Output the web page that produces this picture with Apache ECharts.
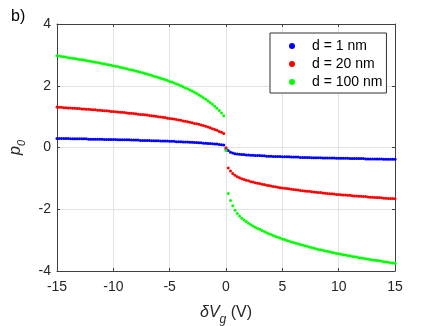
<!DOCTYPE html>
<html>
<head>
	<meta charset="utf-8">
	<title>p0 vs dVg</title>
	<script src="https://cdn.jsdelivr.net/npm/echarts@6/dist/echarts.min.js"></script>
</head>
<body style="margin:0">
	<div id="main" style="width: 436px;height: 326px"></div>
	<script type="text/javascript">
		// gate voltage grid: -15 V .. 15 V, 0.2 V apart (151 samples)
		var vgStart = -15, vgStep = 0.2;
		var seriesNames = ['d = 1 nm', 'd = 20 nm', 'd = 100 nm'];
		var seriesColors = ['#0000ff', '#ff0000', '#00ff00'];

		var p0Blue = [
			0.29,0.29,0.29,0.29,0.29,0.29,0.28,0.28,0.28,0.28,
			0.28,0.28,0.28,0.28,0.27,0.27,0.27,0.27,0.27,0.27,
			0.27,0.26,0.26,0.26,0.26,0.26,0.26,0.25,0.25,0.25,
			0.25,0.25,0.25,0.24,0.24,0.24,0.24,0.23,0.23,0.23,
			0.23,0.23,0.22,0.22,0.22,0.22,0.21,0.21,0.21,0.21,
			0.20,0.20,0.20,0.19,0.19,0.19,0.18,0.18,0.18,0.17,
			0.17,0.16,0.16,0.15,0.15,0.14,0.14,0.13,0.13,0.12,
			0.11,0.11,0.10,0.09,0.08,
			-0.05,
			-0.10,-0.15,-0.18,-0.20,-0.21,-0.22,-0.23,-0.23,-0.24,-0.24,
			-0.25,-0.25,-0.26,-0.26,-0.26,-0.27,-0.27,-0.28,-0.28,-0.28,
			-0.29,-0.29,-0.29,-0.29,-0.30,-0.30,-0.30,-0.30,-0.31,-0.31,
			-0.31,-0.31,-0.32,-0.32,-0.32,-0.32,-0.32,-0.33,-0.33,-0.33,
			-0.33,-0.33,-0.34,-0.34,-0.34,-0.34,-0.34,-0.34,-0.35,-0.35,
			-0.35,-0.35,-0.35,-0.35,-0.36,-0.36,-0.36,-0.36,-0.36,-0.36,
			-0.36,-0.37,-0.37,-0.37,-0.37,-0.37,-0.37,-0.37,-0.37,-0.38,
			-0.38,-0.38,-0.38,-0.38,-0.38
		];
		var p0Red = [
			1.31,1.30,1.30,1.29,1.29,1.28,1.28,1.27,1.27,1.26,
			1.26,1.25,1.25,1.24,1.24,1.23,1.22,1.22,1.21,1.21,
			1.20,1.19,1.19,1.18,1.17,1.17,1.16,1.15,1.14,1.14,
			1.13,1.12,1.11,1.11,1.10,1.09,1.08,1.07,1.07,1.06,
			1.05,1.04,1.03,1.02,1.01,1.00,0.99,0.98,0.97,0.95,
			0.94,0.93,0.92,0.91,0.89,0.88,0.86,0.85,0.83,0.82,
			0.80,0.78,0.77,0.75,0.73,0.71,0.69,0.66,0.64,0.61,
			0.58,0.56,0.52,0.49,0.45,
			-0.01,
			-0.66,-0.76,-0.84,-0.90,-0.95,-0.98,-1.01,-1.04,-1.06,-1.08,
			-1.11,-1.12,-1.14,-1.16,-1.17,-1.19,-1.20,-1.22,-1.23,-1.25,
			-1.26,-1.27,-1.29,-1.30,-1.31,-1.32,-1.33,-1.34,-1.35,-1.36,
			-1.37,-1.38,-1.39,-1.40,-1.41,-1.42,-1.42,-1.43,-1.44,-1.45,
			-1.46,-1.46,-1.47,-1.48,-1.49,-1.50,-1.50,-1.51,-1.52,-1.52,
			-1.53,-1.54,-1.54,-1.55,-1.55,-1.56,-1.57,-1.57,-1.58,-1.58,
			-1.59,-1.59,-1.60,-1.61,-1.61,-1.62,-1.62,-1.62,-1.63,-1.64,
			-1.64,-1.65,-1.65,-1.65,-1.66
		];
		var p0Green = [
			2.97,2.96,2.95,2.94,2.93,2.91,2.90,2.89,2.88,2.87,
			2.85,2.84,2.83,2.82,2.80,2.79,2.78,2.76,2.75,2.74,
			2.72,2.71,2.69,2.68,2.66,2.65,2.63,2.62,2.60,2.58,
			2.57,2.55,2.53,2.51,2.50,2.48,2.46,2.44,2.42,2.40,
			2.38,2.36,2.34,2.31,2.29,2.27,2.24,2.22,2.20,2.17,
			2.14,2.12,2.09,2.06,2.03,2.00,1.97,1.93,1.90,1.86,
			1.83,1.79,1.75,1.70,1.66,1.61,1.56,1.51,1.46,1.40,
			1.34,1.27,1.20,1.12,1.03,
			-0.10,
			-1.49,-1.72,-1.89,-2.03,-2.14,-2.22,-2.29,-2.35,-2.40,-2.45,
			-2.50,-2.54,-2.58,-2.62,-2.65,-2.69,-2.72,-2.76,-2.79,-2.82,
			-2.85,-2.88,-2.91,-2.93,-2.96,-2.98,-3.01,-3.03,-3.06,-3.08,
			-3.10,-3.12,-3.14,-3.16,-3.18,-3.20,-3.22,-3.24,-3.26,-3.28,
			-3.30,-3.31,-3.33,-3.35,-3.36,-3.38,-3.40,-3.41,-3.43,-3.44,
			-3.46,-3.47,-3.48,-3.50,-3.51,-3.53,-3.54,-3.55,-3.57,-3.58,
			-3.59,-3.60,-3.61,-3.63,-3.64,-3.65,-3.66,-3.67,-3.68,-3.70,
			-3.71,-3.72,-3.73,-3.74,-3.75
		];

		var font = '"Liberation Sans", Arial, sans-serif';
		var axisColor = '#404040';
		var textColor = '#262626';

		function toPoints(vals) {
			return vals.map(function (v, i) {
				return [+(vgStart + i * vgStep).toFixed(1), v];
			});
		}

		var allVals = [p0Blue, p0Red, p0Green];
		var series = allVals.map(function (vals, k) {
			return {
				name: seriesNames[k],
				type: 'scatter',
				data: toPoints(vals),
				symbol: 'circle',
				symbolSize: 3,
				itemStyle: {color: seriesColors[k], opacity: 1},
				emphasis: {disabled: true}
			};
		});

		var baseX = {
			type: 'value', min: -15, max: 15, interval: 5,
			axisLine: {show: true, onZero: false, lineStyle: {color: axisColor, width: 1}},
			axisTick: {show: true, inside: true, length: 3, lineStyle: {color: axisColor}}
		};
		var baseY = {
			type: 'value', min: -4, max: 4, interval: 2,
			axisLine: {show: true, onZero: false, lineStyle: {color: axisColor, width: 1}},
			axisTick: {show: true, inside: true, length: 3, lineStyle: {color: axisColor}}
		};

		var myChart = echarts.init(document.getElementById('main'));
		var option = {
			animation: false,
			backgroundColor: '#ffffff',
			title: {
				text: 'b)',
				left: 6, top: 4,
				textStyle: {fontFamily: font, fontSize: 16, fontWeight: 'normal', color: '#000'}
			},
			grid: {left: 57, top: 24, width: 338, height: 247, outerBoundsMode: 'none', containLabel: false},
			legend: {
				orient: 'vertical',
				left: 270, top: 33,
				padding: [5, 4, 3, 19],
				itemGap: 2,
				itemWidth: 6, itemHeight: 6,
				icon: 'circle',
				backgroundColor: '#ffffff',
				borderColor: '#333333',
				borderWidth: 1,
				textStyle: {fontFamily: font, fontSize: 14, lineHeight: 16, color: '#000', padding: [0, 0, 0, 12]},
				data: seriesNames
			},
			xAxis: [
				Object.assign({}, baseX, {
					position: 'bottom',
					name: '{i|δV}{s|g}{n| (V)}',
					nameLocation: 'middle',
					nameGap: 28,
					nameTextStyle: {
						rich: {
							i: {fontFamily: font, fontSize: 16, fontStyle: 'italic', color: textColor, lineHeight: 27, verticalAlign: 'middle'},
							s: {fontFamily: font, fontSize: 12, fontStyle: 'italic', color: textColor, lineHeight: 27, verticalAlign: 'bottom'},
							n: {fontFamily: font, fontSize: 16, color: textColor, lineHeight: 27, verticalAlign: 'middle'}
						}
					},
					axisLabel: {fontFamily: font, fontSize: 14, color: textColor, margin: 9},
					splitLine: {show: true, lineStyle: {color: '#e3e3e3', width: 1}}
				}),
				Object.assign({}, baseX, {
					position: 'top',
					axisLabel: {show: false},
					splitLine: {show: false}
				})
			],
			yAxis: [
				Object.assign({}, baseY, {
					position: 'left',
					name: '{i|p}{s|0}',
					nameLocation: 'middle',
					nameGap: 26,
					nameTextStyle: {
						rich: {
							i: {fontFamily: font, fontSize: 16, fontStyle: 'italic', color: textColor, lineHeight: 24, verticalAlign: 'middle'},
							s: {fontFamily: font, fontSize: 11, fontStyle: 'italic', color: textColor, lineHeight: 24, verticalAlign: 'bottom'}
						}
					},
					axisLabel: {fontFamily: font, fontSize: 14, color: textColor, margin: 6},
					splitLine: {show: true, lineStyle: {color: '#e3e3e3', width: 1}}
				}),
				Object.assign({}, baseY, {
					position: 'right',
					axisLabel: {show: false},
					splitLine: {show: false}
				})
			],
			series: series
		};
		myChart.setOption(option);
	</script>
</body>
</html>
